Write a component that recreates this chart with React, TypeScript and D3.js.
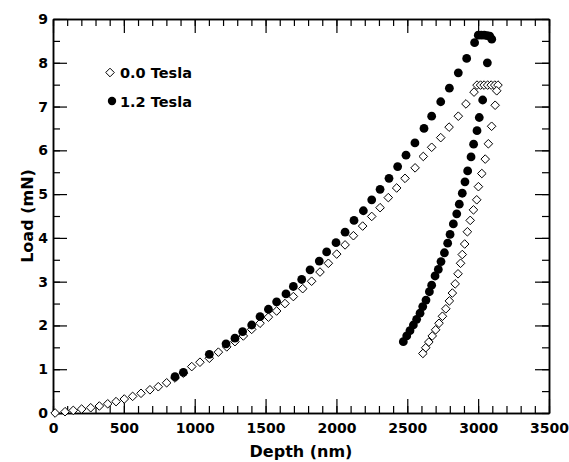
import React, { useRef, useEffect } from 'react';
import * as d3 from 'd3';

// 0.0 Tesla: loading, hold, unloading
const depth00 = [
  15, 85, 143, 202, 266, 327, 386, 445, 503, 562, 621, 684, 743, 802, 861, 920,
  979, 1037, 1103, 1167, 1226, 1284, 1343, 1402, 1461, 1520, 1578, 1637, 1696, 1762,
  1825, 1884, 1943, 2002, 2061, 2120, 2185, 2249, 2308, 2366, 2425, 2484, 2555, 2613,
  2672, 2736, 2795, 2860, 2914, 2971,
  2992, 3017, 3042, 3067, 3092, 3117, 3140,
  3131, 3120, 3095, 3072, 3050, 3026, 3002, 2990, 2967, 2944, 2924, 2905, 2888, 2876,
  2858, 2838, 2818, 2797, 2772, 2748, 2724, 2700, 2676, 2652, 2630, 2610
];
const load00 = [
  0.0, 0.03, 0.06, 0.09, 0.12, 0.16, 0.21, 0.26, 0.32, 0.38, 0.45, 0.53, 0.6, 0.69, 0.8, 0.91,
  1.06, 1.16, 1.25, 1.39, 1.51, 1.63, 1.76, 1.91, 2.05, 2.19, 2.33, 2.5, 2.66, 2.84,
  3.01, 3.22, 3.42, 3.63, 3.84, 4.05, 4.27, 4.49, 4.69, 4.92, 5.14, 5.36, 5.6, 5.86,
  6.07, 6.29, 6.53, 6.78, 7.06, 7.33,
  7.49, 7.49, 7.49, 7.49, 7.49, 7.49, 7.49,
  7.36, 7.03, 6.55, 6.15, 5.8, 5.47, 5.17, 4.87, 4.64, 4.4, 4.14, 3.86, 3.62, 3.42,
  3.18, 2.95, 2.74, 2.56, 2.38, 2.21, 2.05, 1.9, 1.76, 1.62, 1.49, 1.36
];

// 1.2 Tesla
const depth12 = [
  861, 920, 1103, 1221, 1284, 1338, 1402, 1461, 1520, 1578, 1644, 1696, 1755, 1814,
  1879, 1931, 1997, 2061, 2124, 2190, 2249, 2308, 2371, 2432, 2491, 2554, 2618, 2672,
  2736, 2797, 2860, 2919, 2975,
  3001, 3022, 3043, 3064, 3082, 3096,
  3065, 3032, 3008, 2992, 2968, 2950, 2926, 2907, 2888, 2867, 2849, 2825, 2802, 2785,
  2762, 2738, 2719, 2696, 2672, 2656, 2632, 2609, 2590, 2566, 2543, 2519, 2496, 2472
];
const load12 = [
  0.83, 0.93, 1.34, 1.58, 1.71, 1.86, 2.01, 2.2, 2.37, 2.54, 2.72, 2.89, 3.05, 3.27,
  3.47, 3.68, 3.89, 4.13, 4.4, 4.62, 4.87, 5.11, 5.36, 5.63, 5.89, 6.17, 6.5, 6.78,
  7.11, 7.42, 7.77, 8.1, 8.46,
  8.63, 8.63, 8.63, 8.62, 8.61, 8.54,
  8.0, 7.15, 6.75, 6.45, 6.14, 5.85, 5.53, 5.28, 5.02, 4.77, 4.55, 4.32, 4.08, 3.88,
  3.66, 3.46, 3.28, 3.13, 2.92, 2.77, 2.58, 2.43, 2.28, 2.14, 2.01, 1.88, 1.76, 1.63
];

const xTicks = [0, 500, 1000, 1500, 2000, 2500, 3000, 3500];
const yTicks = [0, 1, 2, 3, 4, 5, 6, 7, 8, 9];
const legendLabels = ['0.0 Tesla', '1.2 Tesla'];

const diamond = (r: number) => `M0,${-r}L${r},0L0,${r}L${-r},0Z`;

const App = () => {
  const svgRef = useRef<SVGSVGElement>(null);

  useEffect(() => {
    const svg = d3.select(svgRef.current);
    svg.selectAll('*').remove();

    const width = 569;
    const height = 462;
    const margin = { top: 19, right: 20, bottom: 49, left: 53 };
    const font = '"DejaVu Sans", sans-serif';

    const x = d3.scaleLinear().domain([0, 3500]).range([margin.left, width - margin.right]);
    const y = d3.scaleLinear().domain([0, 9]).range([height - margin.bottom, margin.top]);

    const xMinor = d3.range(0, 3501, 100);
    const yMinor = d3.range(0, 9.01, 0.5);
    const fmt = d3.format('d');

    const styleAxis = (g) => {
      g.select('.domain').attr('stroke', '#000').attr('stroke-width', 1.5);
      g.selectAll('.tick line').attr('stroke', '#000').attr('stroke-width', 1.2);
      g.selectAll('text')
        .attr('fill', '#000')
        .style('font-family', font)
        .style('font-weight', 'bold')
        .style('font-size', '14px');
    };

    // minor ticks, all four sides
    const minor = [
      [d3.axisBottom(x).tickValues(xMinor), `translate(0,${y(0)})`],
      [d3.axisTop(x).tickValues(xMinor), `translate(0,${y(9)})`],
      [d3.axisLeft(y).tickValues(yMinor), `translate(${x(0)},0)`],
      [d3.axisRight(y).tickValues(yMinor), `translate(${x(3500)},0)`]
    ];
    minor.forEach(([ax, tr]) => {
      svg.append('g').attr('transform', tr)
        .call(ax.tickSize(-7).tickSizeOuter(0).tickFormat(() => ''))
        .call(styleAxis);
    });

    // major ticks
    svg.append('g').attr('transform', `translate(0,${y(0)})`)
      .call(d3.axisBottom(x).tickValues(xTicks).tickSize(-14).tickSizeOuter(0).tickPadding(10).tickFormat(fmt))
      .call(styleAxis);
    svg.append('g').attr('transform', `translate(0,${y(9)})`)
      .call(d3.axisTop(x).tickValues(xTicks).tickSize(-14).tickSizeOuter(0).tickFormat(() => ''))
      .call(styleAxis);
    svg.append('g').attr('transform', `translate(${x(0)},0)`)
      .call(d3.axisLeft(y).tickValues(yTicks).tickSize(-14).tickSizeOuter(0).tickPadding(5).tickFormat(fmt))
      .call(styleAxis);
    svg.append('g').attr('transform', `translate(${x(3500)},0)`)
      .call(d3.axisRight(y).tickValues(yTicks).tickSize(-14).tickSizeOuter(0).tickFormat(() => ''))
      .call(styleAxis);

    // axis titles
    svg.append('text')
      .attr('x', (x(0) + x(3500)) / 2)
      .attr('y', 457)
      .attr('text-anchor', 'middle')
      .style('font-family', font)
      .style('font-weight', 'bold')
      .style('font-size', '16px')
      .text('Depth (nm)');
    svg.append('text')
      .attr('transform', `translate(33,${(y(0) + y(9)) / 2}) rotate(-90)`)
      .attr('text-anchor', 'middle')
      .style('font-family', font)
      .style('font-weight', 'bold')
      .style('font-size', '16px')
      .text('Load (mN)');

    // data
    const pts00 = depth00.map((d, i) => [d, load00[i]]);
    const pts12 = depth12.map((d, i) => [d, load12[i]]);

    svg.append('g').selectAll('path')
      .data(pts00)
      .enter()
      .append('path')
      .attr('transform', d => `translate(${x(d[0])},${y(d[1])})`)
      .attr('d', diamond(4.3))
      .attr('fill', '#fff')
      .attr('stroke', '#000')
      .attr('stroke-width', 1);

    svg.append('g').selectAll('circle')
      .data(pts12)
      .enter()
      .append('circle')
      .attr('cx', d => x(d[0]))
      .attr('cy', d => y(d[1]))
      .attr('r', 4.4)
      .attr('fill', '#000');

    // legend
    const legend = svg.append('g');
    legend.append('path')
      .attr('transform', 'translate(110,72.5)')
      .attr('d', diamond(4.3))
      .attr('fill', '#fff')
      .attr('stroke', '#000');
    legend.append('circle')
      .attr('cx', 112).attr('cy', 101).attr('r', 4.2).attr('fill', '#000');
    legend.selectAll('text')
      .data(legendLabels)
      .enter()
      .append('text')
      .attr('x', 120)
      .attr('y', (d, i) => 78 + i * 29)
      .style('font-family', font)
      .style('font-weight', 'bold')
      .style('font-size', '14.5px')
      .text(d => d);
  }, []);

  return (
    <svg ref={svgRef} width={569} height={462}
      style={{ position: 'absolute', left: 0, top: 0, background: '#fff' }} />
  );
};

export default App;
